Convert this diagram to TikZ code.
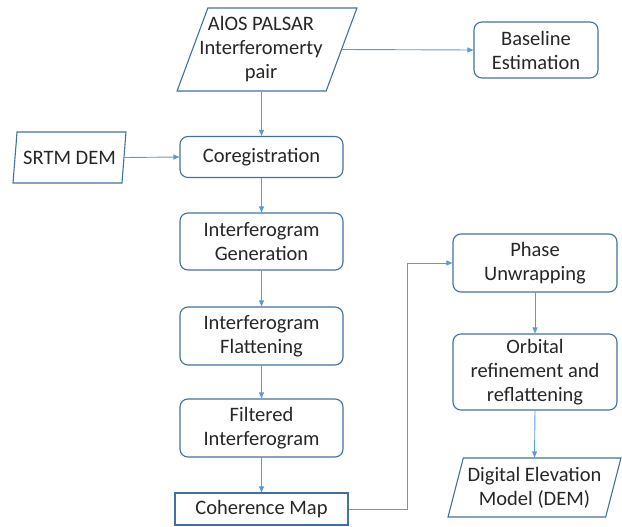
\documentclass[tikz,border=0pt]{standalone}
\usepackage{fontspec}
\setmainfont{Carlito}
\usetikzlibrary{shapes.geometric,arrows.meta}
\definecolor{boxblue}{HTML}{41719C}
\definecolor{arrowblue}{HTML}{5B9BD5}
\definecolor{txt}{HTML}{262626}
\begin{document}
\begin{tikzpicture}[x=1pt,y=-1pt,
  font=\fontsize{20.5}{24}\selectfont,
  every node/.style={text=txt, inner sep=1pt, align=center},
  rbox/.style={draw=boxblue, line width=1.1pt, rounded corners=8pt, minimum width=163pt},
  sbox/.style={draw=boxblue, line width=1.1pt, minimum width=173pt, minimum height=32pt},
  pbox/.style={trapezium, trapezium stretches=true, draw=boxblue, line width=1.1pt},
  arr/.style={draw=arrowblue, line width=0.9pt, -{Triangle[length=6pt,width=5pt]}}]
\useasboundingbox (0,0) rectangle (622,527);
\node[pbox, trapezium left angle=76.5, trapezium right angle=103.5, minimum width=180pt, minimum height=83pt,
  label={[xshift=-6pt, text=txt, align=center]center:AlOS PALSAR\\Interferomerty\\pair}] (alos) at (267,49.5) {\phantom{x}};
\node[rbox, minimum width=124pt, minimum height=56pt] (base) at (536,50) {Baseline\\Estimation};
\node[pbox, trapezium left angle=76.8, trapezium right angle=103.2, minimum width=113pt, minimum height=51pt] (srtm) at (69.5,157.5) {SRTM DEM};
\node[rbox, minimum height=41pt] (coreg) at (261.5,157) {Coregistration};
\node[rbox, minimum height=57pt] (gen) at (261.5,241.5) {Interferogram\\Generation};
\node[rbox, minimum height=58pt] (flat) at (261.5,336) {Interferogram\\Flattening};
\node[rbox, minimum height=58pt] (filt) at (261.5,428) {Filtered\\Interferogram};
\node[sbox] (coh) at (261.5,509) {Coherence Map};
\node[rbox, minimum width=164pt, minimum height=58pt] (phase) at (535,263) {Phase\\Unwrapping};
\node[rbox, minimum width=164pt, minimum height=76pt] (orb) at (535,372) {Orbital\\refinement and\\reflattening};
\node[pbox, trapezium left angle=71.3, trapezium right angle=108.7, minimum width=173pt, minimum height=59pt] (dem) at (534.5,487.5) {Digital Elevation\\Model (DEM)};
\coordinate (bend) at (407,0);
\draw[arr] (alos.east) -- (base.west);
\draw[arr] (coreg.north |- alos.south) -- (coreg.north);
\draw[arr] (srtm.east) -- (coreg.west);
\draw[arr] (coreg.south) -- (gen.north);
\draw[arr] (gen.south) -- (flat.north);
\draw[arr] (flat.south) -- (filt.north);
\draw[arr] (filt.south) -- (coh.north);
\draw[arr] (coh.east) -- (coh.east -| bend) |- (phase.west);
\draw[arr] (phase.south) -- (orb.north);
\draw[arr] (orb.south) -- (dem.north);
\end{tikzpicture}
\end{document}
